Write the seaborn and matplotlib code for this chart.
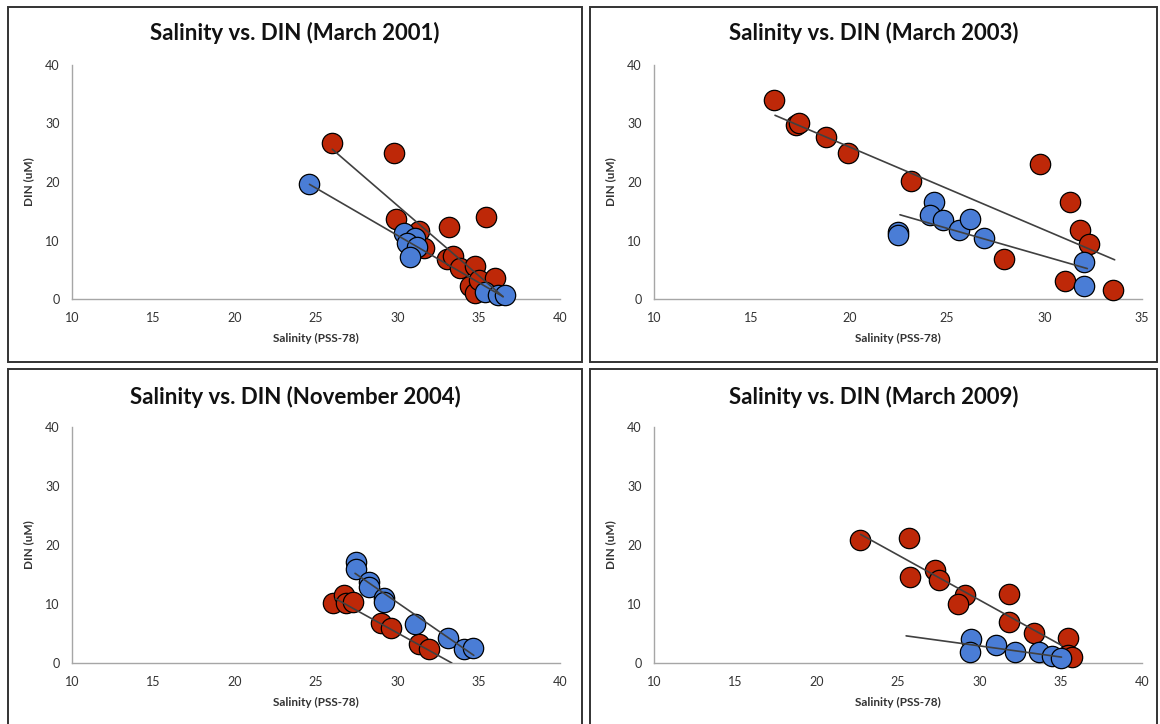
import matplotlib
matplotlib.use("Agg")
import matplotlib.pyplot as plt
import seaborn as sns
from matplotlib.patches import Rectangle

# ---------------- data ----------------
titles = ["Salinity vs. DIN (March 2001)", "Salinity vs. DIN (March 2003)",
          "Salinity vs. DIN (November 2004)", "Salinity vs. DIN (March 2009)"]
x_max = [40, 35, 40, 40]
x_ticks = [[10, 15, 20, 25, 30, 35, 40], [10, 15, 20, 25, 30, 35],
           [10, 15, 20, 25, 30, 35, 40], [10, 15, 20, 25, 30, 35, 40]]
y_ticks = [0, 10, 20, 30, 40]

# March 2001
red_2001_x = [26.0, 29.8, 29.9, 31.35, 31.65, 33.2, 35.45, 33.05, 33.45, 33.85, 34.8, 34.45, 34.78, 35.05, 36.0]
red_2001_y = [26.6, 24.9, 13.6, 11.6, 8.8, 12.3, 14.1, 6.9, 7.4, 5.3, 5.7, 2.2, 1.1, 3.3, 3.6]
blue_2001_x = [24.6, 30.4, 31.1, 30.6, 31.2, 30.8, 35.4, 36.2, 36.6]
blue_2001_y = [19.6, 11.2, 10.5, 9.6, 8.9, 7.2, 1.2, 0.6, 0.6]
red_trend_2001_x = [26.0, 36.5]
red_trend_2001_y = [25.6, 0.4]
blue_trend_2001_x = [24.6, 36.5]
blue_trend_2001_y = [19.6, 0.4]

# March 2003
red_2003_x = [16.15, 17.3, 17.45, 18.8, 19.95, 23.15, 29.8, 31.3, 31.8, 32.3, 27.95, 31.05, 33.5]
red_2003_y = [34.0, 29.7, 30.0, 27.7, 24.9, 20.2, 23.1, 16.5, 11.8, 9.4, 6.8, 3.1, 1.5]
blue_2003_x = [22.5, 22.5, 24.35, 24.15, 24.8, 25.6, 26.2, 26.9, 32.05, 32.05]
blue_2003_y = [11.4, 10.9, 16.5, 14.4, 13.5, 11.8, 13.7, 10.5, 6.3, 2.2]
red_trend_2003_x = [16.2, 33.6]
red_trend_2003_y = [31.4, 6.7]
blue_trend_2003_x = [22.6, 32.2]
blue_trend_2003_y = [14.4, 5.2]

# November 2004
red_2004_x = [26.05, 26.75, 26.85, 27.3, 29.0, 29.6, 31.35, 31.95]
red_2004_y = [10.1, 11.6, 10.1, 10.3, 6.7, 6.0, 3.3, 2.3]
blue_2004_x = [27.45, 27.45, 28.25, 28.25, 29.2, 29.2, 31.1, 33.1, 34.1, 34.65]
blue_2004_y = [17.1, 16.0, 13.8, 12.8, 11.0, 10.3, 6.6, 4.3, 2.4, 2.6]
red_trend_2004_x = [26.2, 33.35]
red_trend_2004_y = [10.9, 0.0]
blue_trend_2004_x = [27.4, 34.7]
blue_trend_2004_y = [15.2, 1.3]

# March 2009
red_2009_x = [22.65, 25.7, 25.75, 27.3, 27.55, 29.1, 28.7, 31.85, 31.85, 33.35, 35.45, 35.45, 35.7]
red_2009_y = [20.9, 21.2, 14.5, 15.7, 14.1, 11.6, 10.0, 11.7, 6.9, 5.1, 4.2, 1.3, 1.1]
blue_2009_x = [29.5, 29.45, 31.0, 32.2, 33.65, 34.45, 35.0]
blue_2009_y = [4.0, 1.8, 3.0, 1.8, 1.8, 1.2, 0.9]
red_trend_2009_x = [22.7, 35.05]
red_trend_2009_y = [21.8, 3.0]
blue_trend_2009_x = [25.5, 35.05]
blue_trend_2009_y = [4.6, 1.0]

red_sets = [(red_2001_x, red_2001_y), (red_2003_x, red_2003_y), (red_2004_x, red_2004_y), (red_2009_x, red_2009_y)]
blue_sets = [(blue_2001_x, blue_2001_y), (blue_2003_x, blue_2003_y), (blue_2004_x, blue_2004_y), (blue_2009_x, blue_2009_y)]
red_trends = [(red_trend_2001_x, red_trend_2001_y), (red_trend_2003_x, red_trend_2003_y),
              (red_trend_2004_x, red_trend_2004_y), (red_trend_2009_x, red_trend_2009_y)]
blue_trends = [(blue_trend_2001_x, blue_trend_2001_y), (blue_trend_2003_x, blue_trend_2003_y),
               (blue_trend_2004_x, blue_trend_2004_y), (blue_trend_2009_x, blue_trend_2009_y)]

# ---------------- style ----------------
sns.set_style("white")
plt.rcParams['font.family'] = ['Lato', 'DejaVu Sans']

RED = "#BE2808"
BLUE = "#4A7DD6"
LINE = "#404040"
AXIS = "#A6A6A6"
TEXT = "#333333"

W, H = 1160, 724
fig = plt.figure(figsize=(W / 100, H / 100), dpi=100)

# layout in pixels
boxes = [(8, 7, 582, 362), (590, 7, 1157, 362), (8, 369, 582, 740), (590, 369, 1157, 740)]
axes_px = [(72, 65, 560, 299), (654, 65, 1142, 299), (72, 427, 560, 663), (654, 427, 1142, 663)]
title_y = [33, 33, 397, 397]


def fx(x):
    return x / W


def fy(y):
    return 1 - y / H


for i in range(4):
    bx0, by0, bx1, by1 = boxes[i]
    fig.patches.append(Rectangle((fx(bx0), fy(by1)), fx(bx1 - bx0), (by1 - by0) / H,
                                 transform=fig.transFigure, fill=False,
                                 edgecolor="#333333", linewidth=1.4, zorder=0))
    ax0, ay0, ax1, ay1 = axes_px[i]
    ax = fig.add_axes([fx(ax0), fy(ay1), fx(ax1 - ax0), (ay1 - ay0) / H])
    ax.set_facecolor("none")

    rx, ry = red_sets[i]
    bxs, bys = blue_sets[i]
    sns.scatterplot(x=rx, y=ry, ax=ax, color=RED, s=215, edgecolor="black",
                    linewidth=0.9, zorder=3, clip_on=False)
    sns.scatterplot(x=bxs, y=bys, ax=ax, color=BLUE, s=215, edgecolor="black",
                    linewidth=0.9, zorder=3, clip_on=False)
    tx, ty = red_trends[i]
    sns.lineplot(x=tx, y=ty, ax=ax, color=LINE, linewidth=1.2, zorder=4)
    tx, ty = blue_trends[i]
    sns.lineplot(x=tx, y=ty, ax=ax, color=LINE, linewidth=1.2, zorder=4)

    ax.set_xlim(10, x_max[i])
    ax.set_ylim(0, 40)
    ax.set_xticks(x_ticks[i])
    ax.set_yticks(y_ticks)
    sns.despine(ax=ax)
    for s in ("left", "bottom"):
        ax.spines[s].set_color(AXIS)
        ax.spines[s].set_linewidth(1.0)
    ax.tick_params(direction="out", length=4, width=1, color=AXIS,
                   labelsize=9, labelcolor=TEXT, pad=5)
    ax.set_xlabel("Salinity (PSS-78)", fontsize=8.5, fontweight="bold",
                  color=TEXT, labelpad=7)
    ax.set_ylabel("DIN (uM)", fontsize=8.5, fontweight="bold",
                  color=TEXT, labelpad=8)

    fig.text(fx((bx0 + bx1) / 2), fy(title_y[i]), titles[i], ha="center",
             va="center", fontsize=16, fontweight="bold", color="#111111")

fig.savefig("out.png", dpi=100)
